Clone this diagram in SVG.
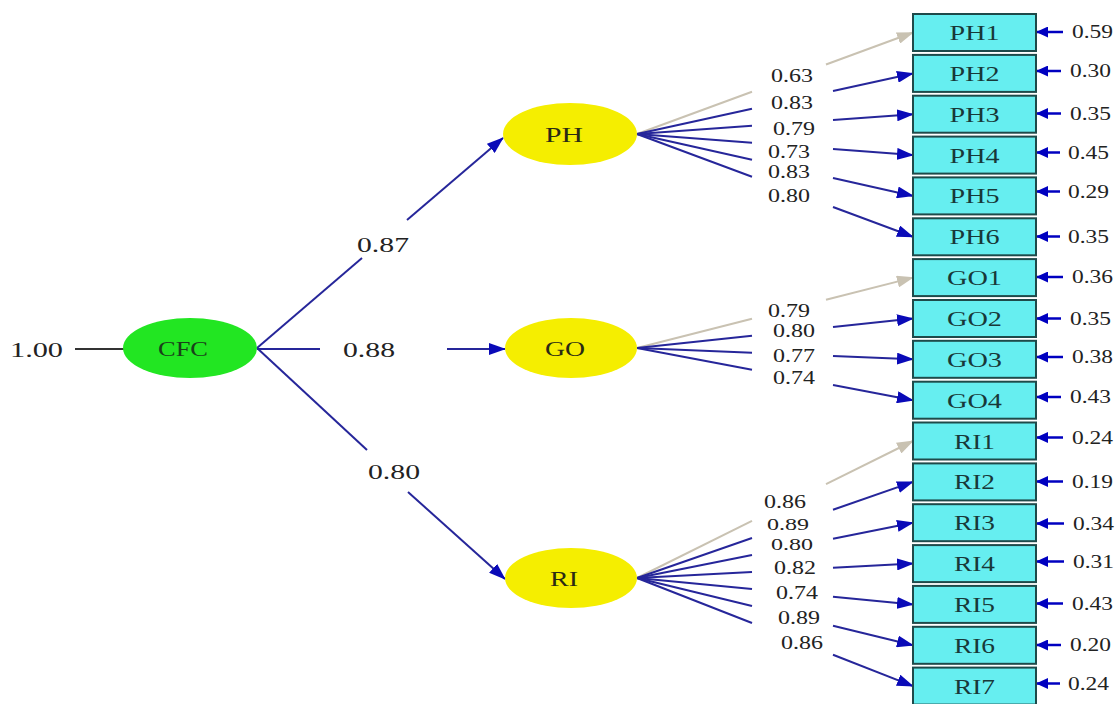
<svg xmlns="http://www.w3.org/2000/svg" width="1120" height="704" viewBox="0 0 1120 704">
<style>
.num{font-family:"Liberation Serif",serif;fill:#222;}
.lg{font-size:22px;}
.sm{font-size:19px;}
.xs{font-size:17px;}
.er{font-size:18px;}
.box{fill:#66eef0;stroke:#1e4a4a;stroke-width:2;}
.bl{font-family:"Liberation Serif",serif;font-size:21px;fill:#183838;}
.el{font-family:"Liberation Serif",serif;font-size:22px;fill:#2a2a14;}
.ln{stroke:#26269a;stroke-width:2;fill:none;}
.gr{stroke:#c9c2b2;stroke-width:2;fill:none;}
.ea{stroke:#0000c0;stroke-width:2.5;fill:none;}
</style>
<defs>
<marker id="ab" markerUnits="userSpaceOnUse" markerWidth="17" markerHeight="12" refX="16" refY="6" orient="auto"><path d="M0,0 L17,6 L0,12 z" fill="#0a0ab8"/></marker>
<marker id="ag" markerUnits="userSpaceOnUse" markerWidth="17" markerHeight="12" refX="16" refY="6" orient="auto"><path d="M0,0 L17,6 L0,12 z" fill="#c9c2b2"/></marker>
<marker id="ae" markerUnits="userSpaceOnUse" markerWidth="12" markerHeight="11" refX="11" refY="5.5" orient="auto"><path d="M0,0 L12,5.5 L0,11 z" fill="#0000c0"/></marker>
</defs>
<rect width="1120" height="704" fill="#ffffff"/>

<g id="connectors">
<line x1="75" y1="349" x2="124" y2="349" stroke="#333" stroke-width="2"/>
<line class="ln" x1="257" y1="348" x2="362" y2="258"/>
<line class="ln" x1="407" y1="220" x2="503" y2="138" marker-end="url(#ab)"/>
<line class="ln" x1="257" y1="349" x2="320" y2="349"/>
<line class="ln" x1="447" y1="349" x2="505" y2="349" marker-end="url(#ab)"/>
<line class="ln" x1="257" y1="348" x2="367" y2="450"/>
<line class="ln" x1="408" y1="492" x2="505" y2="579" marker-end="url(#ab)"/>

<line class="gr" x1="637" y1="134" x2="752" y2="91.7"/>
<line class="gr" x1="826" y1="64.5" x2="913" y2="32.5" marker-end="url(#ag)"/>
<line class="ln" x1="637" y1="134" x2="752" y2="108.8"/>
<line class="ln" x1="833" y1="91" x2="913" y2="73.4" marker-end="url(#ab)"/>
<line class="ln" x1="637" y1="134" x2="752" y2="125.8"/>
<line class="ln" x1="833" y1="119.9" x2="913" y2="114.2" marker-end="url(#ab)"/>
<line class="ln" x1="637" y1="134" x2="752" y2="142.8"/>
<line class="ln" x1="833" y1="149" x2="913" y2="155.1" marker-end="url(#ab)"/>
<line class="ln" x1="637" y1="134" x2="752" y2="159.8"/>
<line class="ln" x1="833" y1="178" x2="913" y2="195.9" marker-end="url(#ab)"/>
<line class="ln" x1="637" y1="134" x2="752" y2="176.8"/>
<line class="ln" x1="833" y1="207" x2="913" y2="236.8" marker-end="url(#ab)"/>

<line class="gr" x1="637" y1="348" x2="752" y2="318.7"/>
<line class="gr" x1="826" y1="299.8" x2="913" y2="277.6" marker-end="url(#ag)"/>
<line class="ln" x1="637" y1="348" x2="752" y2="335.7"/>
<line class="ln" x1="833" y1="327" x2="913" y2="318.5" marker-end="url(#ab)"/>
<line class="ln" x1="637" y1="348" x2="752" y2="352.7"/>
<line class="ln" x1="833" y1="356" x2="913" y2="359.3" marker-end="url(#ab)"/>
<line class="ln" x1="637" y1="348" x2="752" y2="369.8"/>
<line class="ln" x1="833" y1="385.1" x2="913" y2="400.2" marker-end="url(#ab)"/>

<line class="gr" x1="637" y1="578" x2="752" y2="520.9"/>
<line class="gr" x1="826" y1="484.2" x2="913" y2="441" marker-end="url(#ag)"/>
<line class="ln" x1="637" y1="578" x2="752" y2="538"/>
<line class="ln" x1="833" y1="509.8" x2="913" y2="481.9" marker-end="url(#ab)"/>
<line class="ln" x1="637" y1="578" x2="752" y2="555"/>
<line class="ln" x1="833" y1="538.7" x2="913" y2="522.7" marker-end="url(#ab)"/>
<line class="ln" x1="637" y1="578" x2="752" y2="572"/>
<line class="ln" x1="833" y1="567.8" x2="913" y2="563.6" marker-end="url(#ab)"/>
<line class="ln" x1="637" y1="578" x2="752" y2="589"/>
<line class="ln" x1="833" y1="596.8" x2="913" y2="604.4" marker-end="url(#ab)"/>
<line class="ln" x1="637" y1="578" x2="752" y2="606"/>
<line class="ln" x1="833" y1="625.8" x2="913" y2="645.3" marker-end="url(#ab)"/>
<line class="ln" x1="637" y1="578" x2="752" y2="623"/>
<line class="ln" x1="833" y1="654.8" x2="913" y2="686.1" marker-end="url(#ab)"/>

<line class="ea" x1="1063" y1="32" x2="1037" y2="32" marker-end="url(#ae)"/>
<line class="ea" x1="1061" y1="71" x2="1037" y2="71" marker-end="url(#ae)"/>
<line class="ea" x1="1061" y1="113.5" x2="1037" y2="113.5" marker-end="url(#ae)"/>
<line class="ea" x1="1060" y1="152.5" x2="1037" y2="152.5" marker-end="url(#ae)"/>
<line class="ea" x1="1060" y1="191.5" x2="1037" y2="191.5" marker-end="url(#ae)"/>
<line class="ea" x1="1060" y1="236.5" x2="1037" y2="236.5" marker-end="url(#ae)"/>
<line class="ea" x1="1063" y1="277" x2="1037" y2="277" marker-end="url(#ae)"/>
<line class="ea" x1="1061" y1="318.5" x2="1037" y2="318.5" marker-end="url(#ae)"/>
<line class="ea" x1="1063" y1="357" x2="1037" y2="357" marker-end="url(#ae)"/>
<line class="ea" x1="1061" y1="397" x2="1037" y2="397" marker-end="url(#ae)"/>
<line class="ea" x1="1063" y1="437.5" x2="1037" y2="437.5" marker-end="url(#ae)"/>
<line class="ea" x1="1063" y1="481.5" x2="1037" y2="481.5" marker-end="url(#ae)"/>
<line class="ea" x1="1064" y1="523.5" x2="1037" y2="523.5" marker-end="url(#ae)"/>
<line class="ea" x1="1064" y1="561.5" x2="1037" y2="561.5" marker-end="url(#ae)"/>
<line class="ea" x1="1063" y1="603.5" x2="1037" y2="603.5" marker-end="url(#ae)"/>
<line class="ea" x1="1061" y1="645" x2="1037" y2="645" marker-end="url(#ae)"/>
<line class="ea" x1="1060" y1="683.5" x2="1037" y2="683.5" marker-end="url(#ae)"/>
</g>

<g id="path-labels" class="num">
<text class="lg" x="10" y="356.5" textLength="53" lengthAdjust="spacingAndGlyphs">1.00</text>
<text class="lg" x="357" y="251.5" textLength="52" lengthAdjust="spacingAndGlyphs">0.87</text>
<text class="lg" x="343" y="356.5" textLength="52" lengthAdjust="spacingAndGlyphs">0.88</text>
<text class="lg" x="368" y="478.5" textLength="52" lengthAdjust="spacingAndGlyphs">0.80</text>

<text class="sm" x="771" y="81.5" textLength="42" lengthAdjust="spacingAndGlyphs">0.63</text>
<text class="sm" x="771" y="108.5" textLength="42" lengthAdjust="spacingAndGlyphs">0.83</text>
<text class="sm" x="773" y="134.5" textLength="42" lengthAdjust="spacingAndGlyphs">0.79</text>
<text class="sm" x="768" y="157.5" textLength="42" lengthAdjust="spacingAndGlyphs">0.73</text>
<text class="sm" x="768" y="177.5" textLength="42" lengthAdjust="spacingAndGlyphs">0.83</text>
<text class="sm" x="768" y="201.5" textLength="42" lengthAdjust="spacingAndGlyphs">0.80</text>

<text class="sm" x="768" y="316.5" textLength="42" lengthAdjust="spacingAndGlyphs">0.79</text>
<text class="sm" x="773" y="336.5" textLength="42" lengthAdjust="spacingAndGlyphs">0.80</text>
<text class="sm" x="773" y="361.5" textLength="42" lengthAdjust="spacingAndGlyphs">0.77</text>
<text class="sm" x="773" y="383.5" textLength="42" lengthAdjust="spacingAndGlyphs">0.74</text>

<text class="sm" x="764" y="507.5" textLength="42" lengthAdjust="spacingAndGlyphs">0.86</text>
<text class="xs" x="767" y="529.5" textLength="42" lengthAdjust="spacingAndGlyphs">0.89</text>
<text class="xs" x="771" y="550" textLength="42" lengthAdjust="spacingAndGlyphs">0.80</text>
<text class="sm" x="774" y="573.5" textLength="42" lengthAdjust="spacingAndGlyphs">0.82</text>
<text class="sm" x="776" y="598.5" textLength="42" lengthAdjust="spacingAndGlyphs">0.74</text>
<text class="sm" x="778" y="623.5" textLength="42" lengthAdjust="spacingAndGlyphs">0.89</text>
<text class="sm" x="781" y="648.5" textLength="42" lengthAdjust="spacingAndGlyphs">0.86</text>

<text class="er" x="1072" y="38" textLength="41" lengthAdjust="spacingAndGlyphs">0.59</text>
<text class="er" x="1070" y="77" textLength="41" lengthAdjust="spacingAndGlyphs">0.30</text>
<text class="er" x="1070" y="119.5" textLength="41" lengthAdjust="spacingAndGlyphs">0.35</text>
<text class="er" x="1068" y="158.5" textLength="41" lengthAdjust="spacingAndGlyphs">0.45</text>
<text class="er" x="1068" y="197.5" textLength="41" lengthAdjust="spacingAndGlyphs">0.29</text>
<text class="er" x="1068" y="242.5" textLength="41" lengthAdjust="spacingAndGlyphs">0.35</text>
<text class="er" x="1072" y="283" textLength="41" lengthAdjust="spacingAndGlyphs">0.36</text>
<text class="er" x="1070" y="324.5" textLength="41" lengthAdjust="spacingAndGlyphs">0.35</text>
<text class="er" x="1072" y="363" textLength="41" lengthAdjust="spacingAndGlyphs">0.38</text>
<text class="er" x="1070" y="403" textLength="41" lengthAdjust="spacingAndGlyphs">0.43</text>
<text class="er" x="1072" y="443.5" textLength="41" lengthAdjust="spacingAndGlyphs">0.24</text>
<text class="er" x="1072" y="487.5" textLength="41" lengthAdjust="spacingAndGlyphs">0.19</text>
<text class="er" x="1073" y="529.5" textLength="41" lengthAdjust="spacingAndGlyphs">0.34</text>
<text class="er" x="1073" y="567.5" textLength="41" lengthAdjust="spacingAndGlyphs">0.31</text>
<text class="er" x="1072" y="609.5" textLength="41" lengthAdjust="spacingAndGlyphs">0.43</text>
<text class="er" x="1070" y="651" textLength="41" lengthAdjust="spacingAndGlyphs">0.20</text>
<text class="er" x="1068" y="689.5" textLength="41" lengthAdjust="spacingAndGlyphs">0.24</text>
</g>

<g id="CFC">
<ellipse cx="190" cy="348" rx="67" ry="30" fill="#22e622"/>
<text class="el" x="158" y="355.5" textLength="50" lengthAdjust="spacingAndGlyphs" style="fill:#1a401a">CFC</text>
</g>
<g id="PH">
<ellipse cx="570" cy="134" rx="67" ry="31" fill="#f5ee00"/>
<text class="el" x="545" y="141.5" textLength="38" lengthAdjust="spacingAndGlyphs">PH</text>
</g>
<g id="GO">
<ellipse cx="571" cy="348" rx="66" ry="30" fill="#f5ee00"/>
<text class="el" x="545" y="355.5" textLength="40" lengthAdjust="spacingAndGlyphs">GO</text>
</g>
<g id="RI">
<ellipse cx="571" cy="578" rx="66" ry="30" fill="#f5ee00"/>
<text class="el" x="550" y="585.5" textLength="28" lengthAdjust="spacingAndGlyphs">RI</text>
</g>

<g id="PH1"><rect class="box" x="913" y="14" width="123" height="37"/><text class="bl" x="949.5" y="40" textLength="50" lengthAdjust="spacingAndGlyphs">PH1</text></g>
<g id="PH2"><rect class="box" x="913" y="54.9" width="123" height="37"/><text class="bl" x="949.5" y="80.9" textLength="50" lengthAdjust="spacingAndGlyphs">PH2</text></g>
<g id="PH3"><rect class="box" x="913" y="95.7" width="123" height="37"/><text class="bl" x="949.5" y="121.7" textLength="50" lengthAdjust="spacingAndGlyphs">PH3</text></g>
<g id="PH4"><rect class="box" x="913" y="136.6" width="123" height="37"/><text class="bl" x="949.5" y="162.6" textLength="50" lengthAdjust="spacingAndGlyphs">PH4</text></g>
<g id="PH5"><rect class="box" x="913" y="177.4" width="123" height="37"/><text class="bl" x="949.5" y="203.4" textLength="50" lengthAdjust="spacingAndGlyphs">PH5</text></g>
<g id="PH6"><rect class="box" x="913" y="218.3" width="123" height="37"/><text class="bl" x="949.5" y="244.3" textLength="50" lengthAdjust="spacingAndGlyphs">PH6</text></g>
<g id="GO1"><rect class="box" x="913" y="259.1" width="123" height="37"/><text class="bl" x="947" y="285.1" textLength="55" lengthAdjust="spacingAndGlyphs">GO1</text></g>
<g id="GO2"><rect class="box" x="913" y="300" width="123" height="37"/><text class="bl" x="947" y="326" textLength="55" lengthAdjust="spacingAndGlyphs">GO2</text></g>
<g id="GO3"><rect class="box" x="913" y="340.8" width="123" height="37"/><text class="bl" x="947" y="366.8" textLength="55" lengthAdjust="spacingAndGlyphs">GO3</text></g>
<g id="GO4"><rect class="box" x="913" y="381.7" width="123" height="37"/><text class="bl" x="947" y="407.7" textLength="55" lengthAdjust="spacingAndGlyphs">GO4</text></g>
<g id="RI1"><rect class="box" x="913" y="422.5" width="123" height="37"/><text class="bl" x="954" y="448.5" textLength="41" lengthAdjust="spacingAndGlyphs">RI1</text></g>
<g id="RI2"><rect class="box" x="913" y="463.4" width="123" height="37"/><text class="bl" x="954" y="489.4" textLength="41" lengthAdjust="spacingAndGlyphs">RI2</text></g>
<g id="RI3"><rect class="box" x="913" y="504.2" width="123" height="37"/><text class="bl" x="954" y="530.2" textLength="41" lengthAdjust="spacingAndGlyphs">RI3</text></g>
<g id="RI4"><rect class="box" x="913" y="545.1" width="123" height="37"/><text class="bl" x="954" y="571.1" textLength="41" lengthAdjust="spacingAndGlyphs">RI4</text></g>
<g id="RI5"><rect class="box" x="913" y="585.9" width="123" height="37"/><text class="bl" x="954" y="611.9" textLength="41" lengthAdjust="spacingAndGlyphs">RI5</text></g>
<g id="RI6"><rect class="box" x="913" y="626.8" width="123" height="37"/><text class="bl" x="954" y="652.8" textLength="41" lengthAdjust="spacingAndGlyphs">RI6</text></g>
<g id="RI7"><rect class="box" x="913" y="667.6" width="123" height="37"/><text class="bl" x="954" y="693.6" textLength="41" lengthAdjust="spacingAndGlyphs">RI7</text></g>
</svg>
